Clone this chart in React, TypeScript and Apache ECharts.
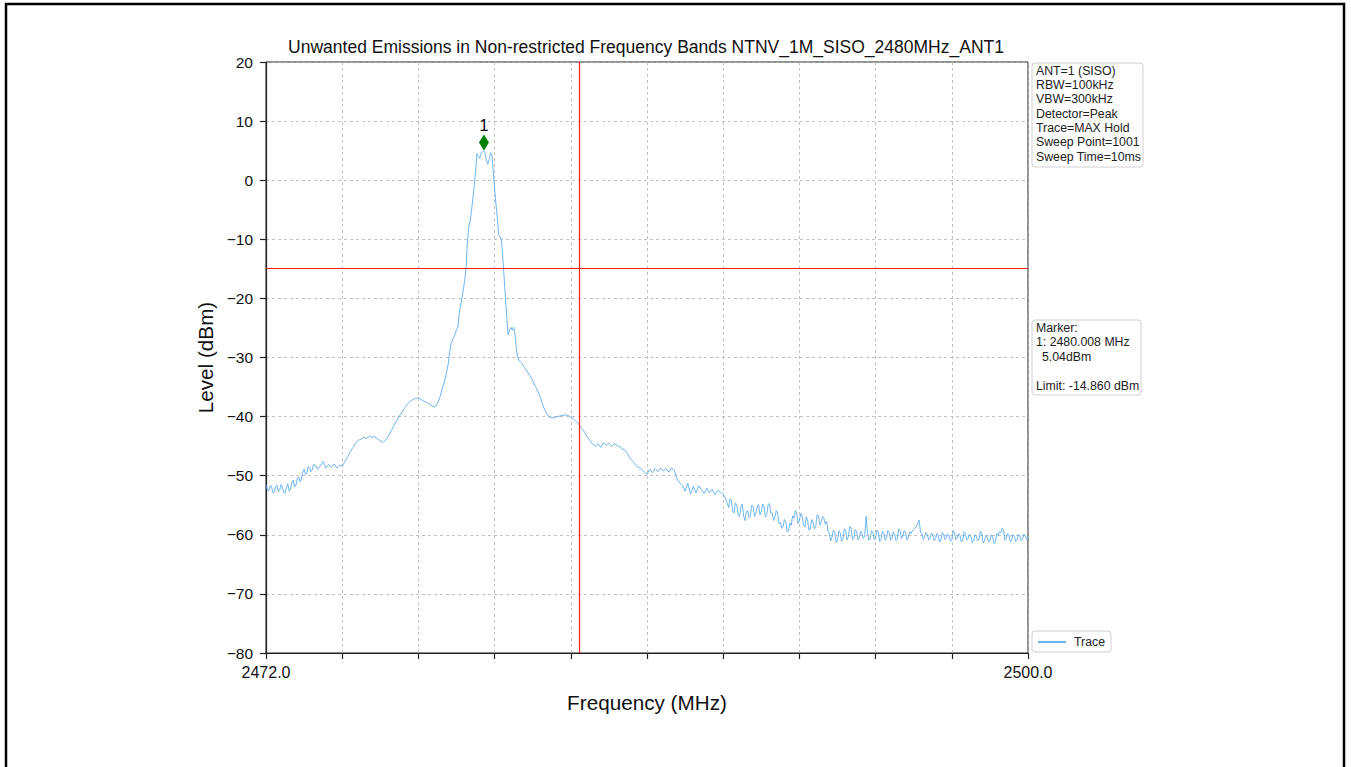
import React, { useEffect, useRef } from 'react';
import * as echarts from 'echarts';

const FONT = '"Liberation Sans", Arial, Helvetica, sans-serif';

const titleText = 'Unwanted Emissions in Non-restricted Frequency Bands NTNV_1M_SISO_2480MHz_ANT1';
const xMin = 2472;
const xMax = 2500;
const yMin = -80;
const yMax = 20;
const yStep = 10;
const xDivisions = 10;
const limitLevel = -14.86;
const bandEdge = 2483.5;
const markerFreq = 2480.008;
const markerLevel = 5.04;
const settingsLines = ['ANT=1 (SISO)', 'RBW=100kHz', 'VBW=300kHz', 'Detector=Peak', 'Trace=MAX Hold', 'Sweep Point=1001', 'Sweep Time=10ms'];

const traceLow: [number, number][] = [
  [2472.0, -51.5], [2472.05, -52.4], [2472.1, -52.6], [2472.15, -51.7], [2472.2, -51.8], [2472.25, -52.9],
  [2472.3, -52.8], [2472.35, -51.9], [2472.4, -51.6], [2472.45, -52.7], [2472.5, -52.5], [2472.55, -51.5],
  [2472.6, -51.9], [2472.65, -52.8], [2472.7, -53.0], [2472.75, -52.0], [2472.8, -51.4], [2472.85, -52.6],
  [2472.9, -52.3], [2472.95, -51.2], [2473.0, -50.8], [2473.05, -51.9], [2473.1, -51.6], [2473.15, -50.4],
  [2473.2, -50.2], [2473.25, -51.0], [2473.3, -50.6], [2473.35, -49.4], [2473.4, -48.9], [2473.45, -49.8],
  [2473.5, -49.6], [2473.55, -48.5], [2473.6, -48.6], [2473.65, -49.3], [2473.7, -49.0], [2473.75, -48.1],
  [2473.8, -48.2], [2473.9, -48.9], [2474.0, -48.3], [2474.1, -47.6], [2474.2, -48.7], [2474.3, -48.1],
  [2474.4, -48.6], [2474.5, -48.0], [2474.6, -48.7], [2474.7, -48.2], [2474.8, -48.4], [2474.9, -47.6],
  [2475.0, -46.8], [2475.1, -45.9], [2475.2, -45.2], [2475.3, -44.4], [2475.4, -44.0], [2475.5, -43.8],
  [2475.6, -43.5], [2475.7, -43.7], [2475.8, -43.3], [2475.9, -43.5], [2476.0, -43.4], [2476.1, -43.8],
  [2476.2, -44.1], [2476.3, -44.4], [2476.4, -43.9], [2476.5, -43.3], [2476.6, -42.4], [2476.7, -41.5],
  [2476.8, -40.7], [2476.9, -39.9], [2477.0, -39.2], [2477.1, -38.5], [2477.2, -37.9], [2477.3, -37.4],
  [2477.4, -37.1], [2477.5, -36.9], [2477.6, -36.8], [2477.7, -37.1], [2477.8, -37.4], [2477.9, -37.6],
  [2478.0, -37.8], [2478.1, -38.2], [2478.2, -38.4], [2478.3, -37.8], [2478.4, -36.6],
];

const tracePeak: [number, number][] = [
  [2478.5, -34.9], [2478.6, -33.3], [2478.7, -31.0], [2478.75, -29.0], [2478.8, -27.6], [2478.9, -26.6],
  [2479.0, -25.3], [2479.05, -24.8], [2479.1, -22.5], [2479.2, -20.0], [2479.3, -17.0], [2479.35, -15.0],
  [2479.4, -10.5], [2479.45, -7.8], [2479.5, -7.0], [2479.55, -5.3], [2479.6, -3.2], [2479.65, -1.0],
  [2479.7, 1.5], [2479.75, 4.5], [2479.8, 4.0], [2479.85, 3.7], [2479.9, 4.5], [2479.95, 4.8],
  [2480.0, 5.0], [2480.05, 4.6], [2480.1, 3.3], [2480.15, 2.7], [2480.2, 3.5], [2480.25, 4.6],
  [2480.3, 4.4], [2480.35, 1.5], [2480.4, -1.5], [2480.45, -4.0], [2480.5, -6.5], [2480.55, -9.2],
  [2480.6, -9.6], [2480.65, -10.0], [2480.7, -13.0], [2480.75, -16.5], [2480.8, -20.0], [2480.85, -23.5],
  [2480.9, -26.2], [2480.95, -25.3], [2481.0, -24.9], [2481.05, -25.4], [2481.1, -24.9], [2481.15, -26.0],
  [2481.2, -28.5], [2481.25, -29.9], [2481.3, -30.5], [2481.4, -31.0], [2481.5, -31.7],
];

const traceHigh: [number, number][] = [
  [2481.6, -32.4], [2481.7, -33.1], [2481.8, -33.9], [2481.9, -34.9], [2482.0, -35.8], [2482.1, -37.0],
  [2482.2, -38.4], [2482.3, -39.4], [2482.4, -40.0], [2482.5, -40.2], [2482.6, -40.2], [2482.7, -40.0],
  [2482.8, -39.9], [2482.9, -39.8], [2483.0, -39.7], [2483.1, -39.8], [2483.2, -40.1], [2483.3, -40.4],
  [2483.4, -40.8], [2483.5, -41.3], [2483.6, -42.0], [2483.7, -42.6], [2483.8, -43.4], [2483.9, -44.0],
  [2484.0, -44.6], [2484.1, -45.0], [2484.2, -44.6], [2484.3, -45.2], [2484.4, -44.4], [2484.5, -44.9],
  [2484.6, -44.5], [2484.7, -45.0], [2484.8, -44.6], [2484.9, -44.9], [2485.0, -45.1], [2485.1, -45.5],
  [2485.2, -45.7], [2485.3, -46.4], [2485.4, -47.2], [2485.5, -47.6], [2485.6, -48.3], [2485.7, -48.6],
  [2485.8, -48.9], [2485.9, -49.4], [2486.0, -49.8], [2486.1, -48.9], [2486.2, -49.5], [2486.3, -48.8],
  [2486.4, -49.3], [2486.5, -48.7], [2486.6, -49.2], [2486.7, -48.8], [2486.8, -49.4], [2486.9, -48.7],
  [2487.0, -49.0], [2487.1, -50.5], [2487.2, -51.2], [2487.3, -51.6], [2487.4, -52.6], [2487.5, -51.3],
  [2487.6, -53.1], [2487.7, -51.8], [2487.8, -52.9], [2487.9, -51.7], [2488.0, -52.4], [2488.1, -53.0],
  [2488.2, -52.1], [2488.3, -52.9], [2488.4, -52.3], [2488.5, -53.2], [2488.6, -52.5], [2488.7, -52.8],
  [2488.8, -53.1], [2488.9, -54.0], [2489.0, -55.4], [2489.05, -53.9], [2489.1, -54.2], [2489.15, -56.0],
  [2489.2, -56.3], [2489.25, -54.6], [2489.3, -55.0], [2489.35, -56.7], [2489.4, -56.9], [2489.45, -55.3],
  [2489.5, -54.8], [2489.55, -56.8], [2489.6, -57.6], [2489.65, -56.2], [2489.7, -55.9], [2489.75, -57.1],
  [2489.8, -56.8], [2489.85, -55.0], [2489.9, -55.2], [2489.95, -56.9], [2490.0, -56.4], [2490.05, -55.3],
  [2490.1, -54.9], [2490.15, -56.6], [2490.2, -56.1], [2490.25, -54.8], [2490.3, -55.3], [2490.35, -57.0],
  [2490.4, -56.6], [2490.45, -54.9], [2490.5, -54.7], [2490.55, -56.4], [2490.6, -56.3], [2490.65, -57.6],
  [2490.7, -57.0], [2490.75, -55.9], [2490.8, -56.4], [2490.85, -58.1], [2490.9, -57.9], [2490.95, -58.9],
  [2491.0, -58.6], [2491.05, -57.4], [2491.1, -57.8], [2491.15, -59.5], [2491.2, -59.3], [2491.25, -58.0],
  [2491.3, -58.4], [2491.35, -56.8], [2491.4, -57.2], [2491.45, -55.9], [2491.5, -56.3], [2491.55, -58.1],
  [2491.6, -57.6], [2491.65, -56.4], [2491.7, -56.8], [2491.75, -58.4], [2491.8, -58.7], [2491.85, -57.0],
  [2491.9, -57.5], [2491.95, -59.2], [2492.0, -59.0], [2492.05, -57.4], [2492.1, -57.8], [2492.15, -59.0],
  [2492.2, -58.6], [2492.25, -56.6], [2492.3, -56.8], [2492.35, -58.3], [2492.4, -57.9], [2492.45, -56.9],
  [2492.5, -57.2], [2492.55, -58.2], [2492.6, -57.7], [2492.65, -59.4], [2492.7, -59.8], [2492.75, -61.0],
  [2492.8, -60.4], [2492.85, -59.2], [2492.9, -59.6], [2492.95, -61.3], [2493.0, -60.9], [2493.05, -59.3],
  [2493.1, -59.7], [2493.15, -61.1], [2493.2, -60.8], [2493.25, -59.0], [2493.3, -59.3], [2493.35, -60.9],
  [2493.4, -60.3], [2493.45, -58.6], [2493.5, -58.9], [2493.55, -60.8], [2493.6, -60.6], [2493.65, -59.1],
  [2493.7, -59.4], [2493.75, -60.9], [2493.8, -60.5], [2493.85, -59.4], [2493.9, -59.8], [2493.95, -60.6],
  [2494.0, -60.2], [2494.05, -56.9], [2494.1, -59.4], [2494.15, -60.9], [2494.2, -60.7], [2494.25, -59.3],
  [2494.3, -59.6], [2494.35, -60.8], [2494.4, -60.4], [2494.45, -59.2], [2494.5, -59.5], [2494.55, -61.1],
  [2494.6, -60.8], [2494.65, -59.4], [2494.7, -59.7], [2494.75, -60.9], [2494.8, -60.5], [2494.85, -59.3],
  [2494.9, -59.6], [2494.95, -60.9], [2495.0, -60.6], [2495.05, -59.5], [2495.1, -59.9], [2495.15, -61.0],
  [2495.2, -60.7], [2495.25, -59.0], [2495.3, -59.3], [2495.35, -60.6], [2495.4, -60.2], [2495.45, -59.3],
  [2495.5, -59.6], [2495.55, -60.9], [2495.6, -60.5], [2495.65, -59.5], [2495.7, -59.8], [2495.75, -59.3],
  [2495.8, -59.1], [2495.85, -58.9], [2495.9, -58.6], [2495.95, -58.0], [2496.0, -57.5], [2496.05, -59.6],
  [2496.1, -59.8], [2496.15, -60.8], [2496.2, -60.4], [2496.25, -59.6], [2496.3, -59.9], [2496.35, -60.9],
  [2496.4, -60.6], [2496.45, -59.7], [2496.5, -60.0], [2496.55, -61.0], [2496.6, -60.7], [2496.65, -59.8],
  [2496.7, -60.1], [2496.75, -61.2], [2496.8, -60.9], [2496.85, -59.6], [2496.9, -59.9], [2496.95, -60.8],
  [2497.0, -60.5], [2497.05, -59.9], [2497.1, -60.2], [2497.15, -61.1], [2497.2, -60.8], [2497.25, -59.3],
  [2497.3, -59.6], [2497.35, -60.8], [2497.4, -60.5], [2497.45, -59.8], [2497.5, -60.1], [2497.55, -61.2],
  [2497.6, -60.9], [2497.65, -59.5], [2497.7, -59.8], [2497.75, -60.9], [2497.8, -60.6], [2497.85, -59.9],
  [2497.9, -60.2], [2497.95, -61.3], [2498.0, -61.0], [2498.05, -60.0], [2498.1, -60.3], [2498.15, -61.0],
  [2498.2, -60.7], [2498.25, -59.4], [2498.3, -59.7], [2498.35, -61.4], [2498.4, -61.1], [2498.45, -60.1],
  [2498.5, -60.4], [2498.55, -61.2], [2498.6, -60.9], [2498.65, -60.0], [2498.7, -60.3], [2498.75, -61.5],
  [2498.8, -61.2], [2498.85, -59.8], [2498.9, -60.1], [2498.95, -59.5], [2499.0, -59.7], [2499.05, -58.9],
  [2499.1, -59.2], [2499.15, -60.9], [2499.2, -60.6], [2499.25, -59.8], [2499.3, -60.1], [2499.35, -61.2],
  [2499.4, -60.9], [2499.45, -60.0], [2499.5, -60.3], [2499.55, -61.1], [2499.6, -60.8], [2499.65, -59.9],
  [2499.7, -60.2], [2499.75, -61.0], [2499.8, -60.7], [2499.85, -59.9], [2499.9, -60.2], [2499.95, -60.8],
  [2500.0, -60.4],
];

const TRACE_COLOR = '#4aa3f0';

export default function App() {
  const ref = useRef<HTMLDivElement>(null);

  useEffect(() => {
    if (!ref.current) return;
    const chart = echarts.init(ref.current, undefined, { renderer: 'svg' });
    const trace = [...traceLow, ...tracePeak, ...traceHigh];

    const textStyle = (t: string, x: number, y: number) => ({
      type: 'text',
      x,
      y,
      style: { text: t, fontSize: 12.3, fontFamily: FONT, fill: '#222', verticalAlign: 'top', align: 'left' },
    });

    const markerLines = [
      { t: 'Marker:', dx: 0, row: 0 },
      { t: `1: ${markerFreq.toFixed(3)} MHz`, dx: 0, row: 1 },
      { t: `${markerLevel.toFixed(2)}dBm`, dx: 6, row: 2 },
      { t: `Limit: ${limitLevel.toFixed(3)} dBm`, dx: 0, row: 4 },
    ];

    chart.setOption({
      animation: false,
      backgroundColor: '#ffffff',
      textStyle: { fontFamily: FONT },
      title: {
        text: titleText,
        left: 641,
        top: 33,
        textAlign: 'center',
        textStyle: { fontSize: 17.5, fontWeight: 'normal', color: '#111', fontFamily: FONT },
      },
      grid: {
        left: 266,
        right: 323,
        top: 62,
        bottom: 114,
        show: true,
        borderColor: '#222',
        borderWidth: 1,
        backgroundColor: 'transparent',
      },
      legend: {
        data: [{ name: 'Trace', icon: 'rect' }],
        left: 1032,
        top: 631,
        orient: 'vertical',
        itemWidth: 28,
        itemHeight: 1.6,
        padding: [5, 6, 4, 6],
        borderColor: '#d0d0d0',
        borderWidth: 1,
        borderRadius: 3,
        backgroundColor: '#fff',
        textStyle: { fontSize: 12.3, color: '#222', fontFamily: FONT, lineHeight: 12, padding: [0, 0, 0, 3] },
      },
      xAxis: [
        {
          type: 'value',
          min: xMin,
          max: xMax,
          position: 'bottom',
          name: 'Frequency (MHz)',
          nameLocation: 'middle',
          nameGap: 39,
          nameTextStyle: { fontSize: 20.7, color: '#111', fontFamily: FONT },
          axisLine: { show: true, onZero: false, lineStyle: { color: '#222', width: 1.2 } },
          axisTick: { show: false },
          splitLine: { show: false },
          axisLabel: {
            margin: 11,
            fontSize: 16,
            color: '#111',
            fontFamily: FONT,
            formatter: (v: number) => (v === xMin || v === xMax ? v.toFixed(1) : ''),
          },
        },
        {
          type: 'value',
          min: 0,
          max: xDivisions,
          interval: 1,
          position: 'bottom',
          axisLine: { show: false, onZero: false },
          axisTick: { show: true, length: 6, lineStyle: { color: '#222', width: 1.2 } },
          axisLabel: { show: false },
          splitLine: { show: true, lineStyle: { color: '#b4b4b4', type: [3, 3], width: 0.8 } },
        },
      ],
      yAxis: {
        type: 'value',
        min: yMin,
        max: yMax,
        interval: yStep,
        name: 'Level (dBm)',
        nameLocation: 'middle',
        nameGap: 46,
        nameTextStyle: { fontSize: 20.7, color: '#111', fontFamily: FONT },
        axisLine: { show: true, onZero: false, lineStyle: { color: '#222', width: 1.2 } },
        axisTick: { show: true, length: 6, lineStyle: { color: '#222', width: 1.2 } },
        axisLabel: {
          margin: 13,
          fontSize: 15.5,
          color: '#111',
          fontFamily: FONT,
          formatter: (v: number) => String(v).replace('-', '\u2212'),
        },
        splitLine: { show: true, lineStyle: { color: '#b4b4b4', type: [3, 3], width: 0.8 } },
      },
      series: [
        {
          name: 'Trace',
          type: 'line',
          xAxisIndex: 0,
          data: trace,
          symbol: 'none',
          showSymbol: false,
          lineStyle: { color: TRACE_COLOR, width: 0.8 },
          itemStyle: { color: TRACE_COLOR },
          z: 3,
          markLine: {
            silent: true,
            symbol: ['none', 'none'],
            label: { show: false },
            lineStyle: { color: '#ff1a1a', width: 1.2, type: 'solid' },
            data: [{ yAxis: limitLevel }, { xAxis: bandEdge }],
          },
        },
        {
          name: 'Marker',
          type: 'scatter',
          xAxisIndex: 0,
          data: [[markerFreq, markerLevel]],
          symbol: 'diamond',
          symbolSize: [10, 16],
          symbolOffset: [0, -8],
          itemStyle: { color: '#008000', opacity: 1 },
          z: 5,
          label: {
            show: true,
            formatter: '1',
            position: 'top',
            distance: 1,
            fontSize: 16,
            color: '#000',
            fontFamily: FONT,
          },
        },
      ],
      graphic: [
        {
          type: 'rect',
          shape: { x: 6, y: 4, width: 1338, height: 800 },
          style: { fill: 'none', stroke: '#000', lineWidth: 2.5 },
          z: -10,
          silent: true,
        },
        {
          type: 'group',
          x: 1032,
          y: 63,
          children: [
            { type: 'rect', shape: { x: 0, y: 0, width: 111, height: 104, r: 3 }, style: { fill: '#fff', stroke: '#d0d0d0', lineWidth: 1 } },
            ...settingsLines.map((t, i) => textStyle(t, 4, 1.5 + i * 14.35)),
          ],
        },
        {
          type: 'group',
          x: 1032,
          y: 320,
          children: [
            { type: 'rect', shape: { x: 0, y: 0, width: 109, height: 75, r: 3 }, style: { fill: '#fff', stroke: '#d0d0d0', lineWidth: 1 } },
            ...markerLines.map((m) => textStyle(m.t, 4 + m.dx, 1.5 + m.row * 14.5)),
          ],
        },
      ],
    });

    return () => chart.dispose();
  }, []);

  return (
    <div
      ref={ref}
      style={{ position: 'fixed', left: 0, top: 0, width: 1351, height: 767, background: '#fff' }}
    />
  );
}
